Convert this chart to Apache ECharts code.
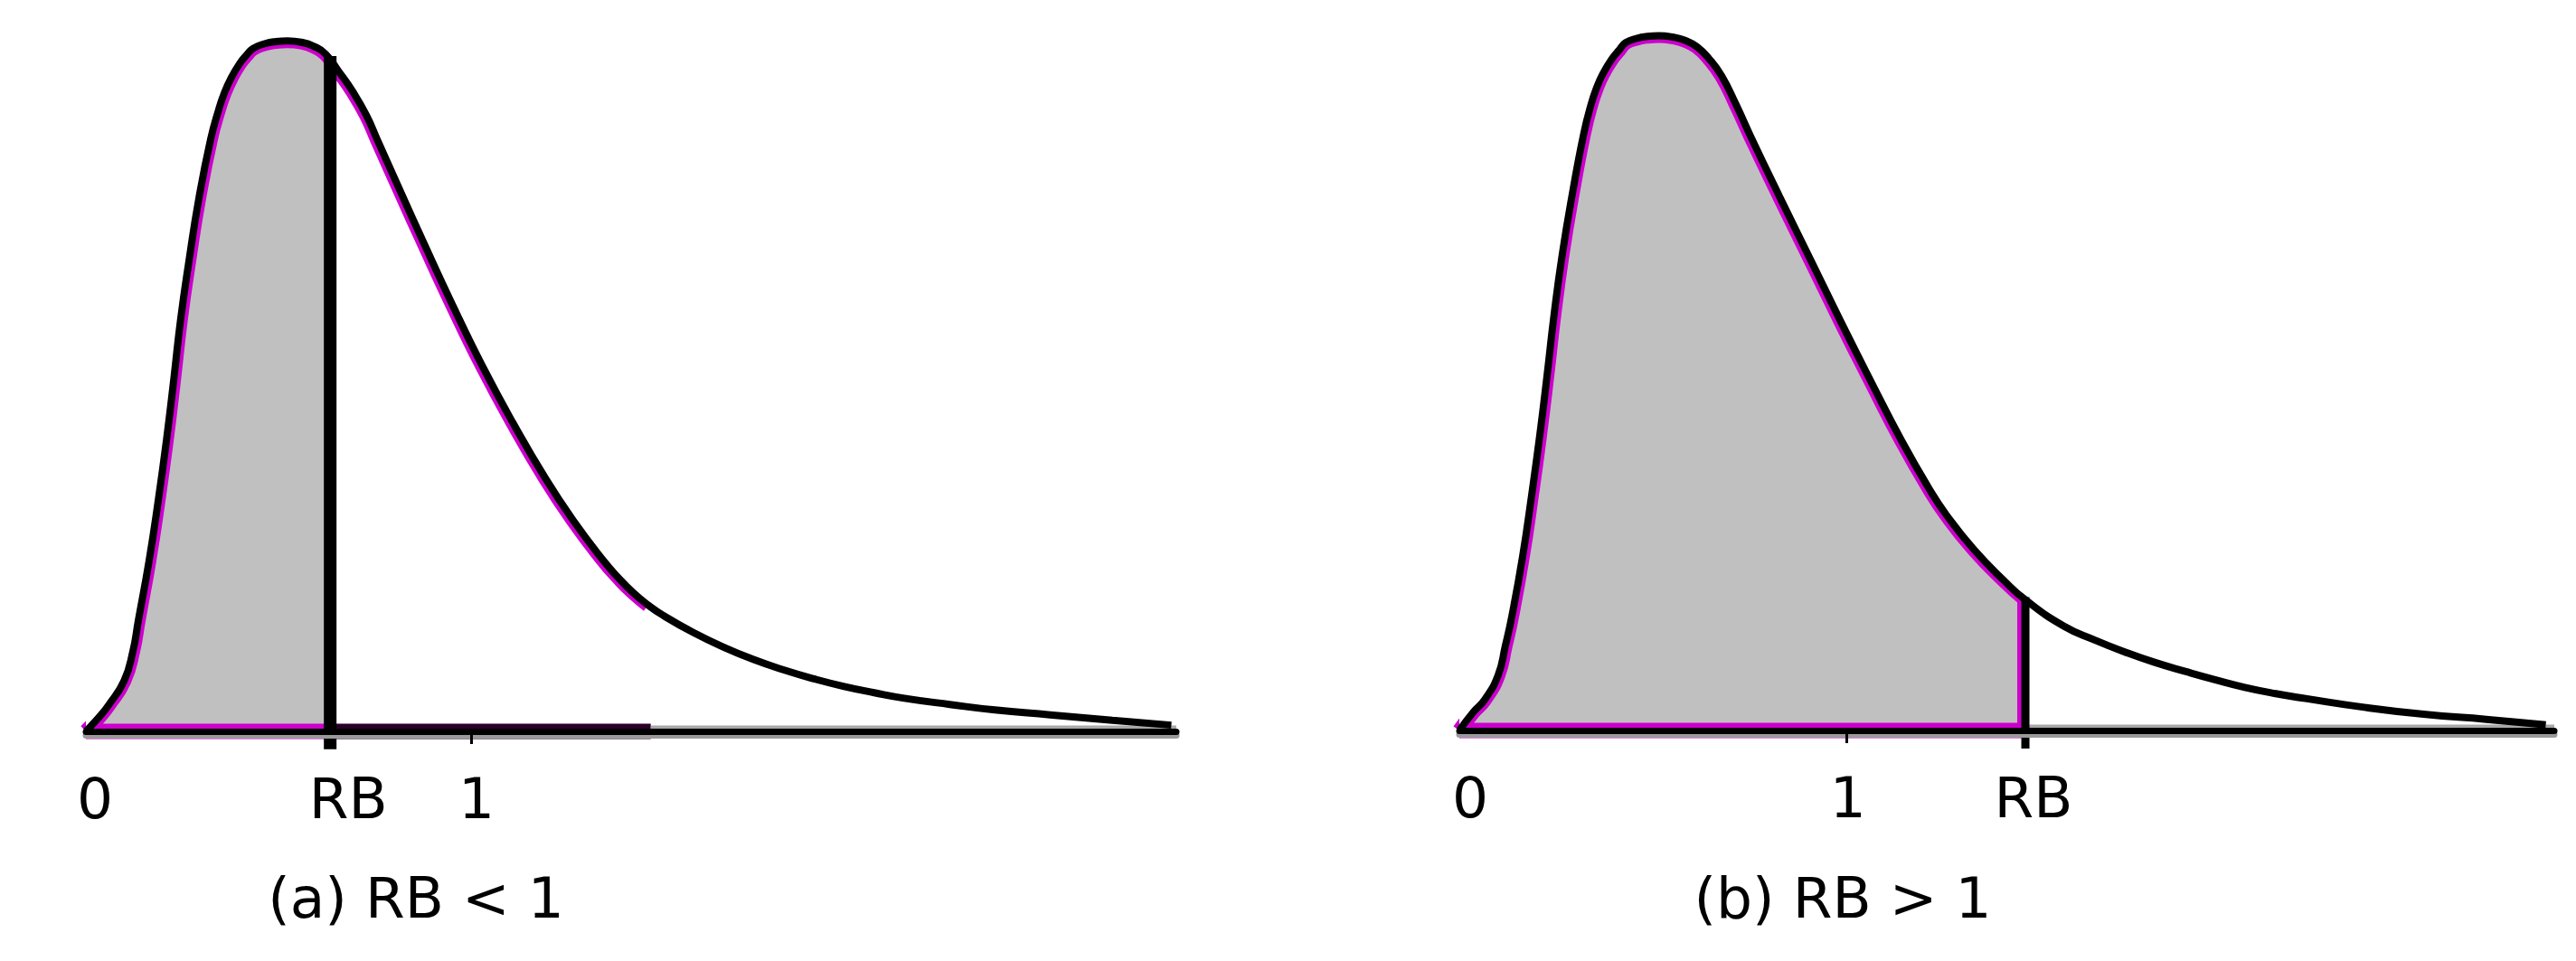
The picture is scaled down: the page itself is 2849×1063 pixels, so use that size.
<!DOCTYPE html>
<html><head><meta charset="utf-8">
<script src="https://cdn.jsdelivr.net/npm/echarts@6/dist/echarts.min.js"></script>
<style>html,body{margin:0;padding:0;background:#fff}#c{width:2849px;height:1063px}</style>
</head><body><div id="c"></div>
<script>
// ---- Panel (a): RB < 1 ----
const curveA_x = [0, 0.035, 0.059, 0.099, 0.122, 0.136, 0.164, 0.188, 0.209, 0.228, 0.246, 0.268, 0.293, 0.324, 0.345, 0.359, 0.376, 0.399, 0.418, 0.434, 0.465, 0.493, 0.523, 0.559, 0.592, 0.622, 0.657, 0.692, 0.728, 0.756, 0.817, 0.873, 0.951, 1.028, 1.108, 1.193, 1.264, 1.342, 1.381, 1.420, 1.459, 1.498, 1.577, 1.655, 1.733, 1.811, 1.890, 1.968, 2.046, 2.124, 2.242, 2.359, 2.502, 2.664, 2.817];
const curveA_y = [0, 0.021, 0.038, 0.073, 0.116, 0.160, 0.247, 0.335, 0.421, 0.509, 0.597, 0.683, 0.771, 0.858, 0.901, 0.924, 0.945, 0.967, 0.980, 0.989, 0.996, 0.999, 1.0, 0.998, 0.992, 0.981, 0.955, 0.927, 0.892, 0.857, 0.781, 0.712, 0.618, 0.530, 0.447, 0.366, 0.306, 0.248, 0.223, 0.201, 0.183, 0.168, 0.143, 0.122, 0.104, 0.089, 0.076, 0.065, 0.056, 0.048, 0.039, 0.031, 0.024, 0.016, 0.009];
const rbA = 0.634;
const rbTopA = 0.978;
const outlineEndA = 1.466;
const tickValsA = [0, rbA, 1];
const tickLabelsA = ['0', 'RB', '1'];

// ---- Panel (b): RB > 1 ----
const curveB_x = [0, 0.037, 0.065, 0.100, 0.119, 0.136, 0.164, 0.187, 0.208, 0.227, 0.245, 0.266, 0.292, 0.322, 0.341, 0.355, 0.371, 0.395, 0.414, 0.430, 0.458, 0.486, 0.516, 0.551, 0.584, 0.614, 0.645, 0.678, 0.715, 0.752, 0.827, 0.909, 0.988, 1.065, 1.143, 1.213, 1.259, 1.329, 1.409, 1.463, 1.563, 1.643, 1.720, 1.797, 1.876, 1.953, 2.030, 2.110, 2.187, 2.343, 2.498, 2.654, 2.808];
const curveB_y = [0, 0.027, 0.044, 0.079, 0.122, 0.165, 0.252, 0.339, 0.425, 0.512, 0.599, 0.685, 0.772, 0.860, 0.902, 0.925, 0.945, 0.967, 0.980, 0.990, 0.996, 0.999, 1.0, 0.998, 0.993, 0.984, 0.967, 0.942, 0.901, 0.856, 0.769, 0.676, 0.586, 0.501, 0.417, 0.349, 0.310, 0.261, 0.215, 0.188, 0.150, 0.130, 0.113, 0.098, 0.085, 0.073, 0.062, 0.053, 0.046, 0.033, 0.023, 0.016, 0.008];
const rbB = 1.463;
const rbTopB = 0.192;
const outlineEndB = rbB;
const tickValsB = [0, 1, rbB];
const tickLabelsB = ['0', '1', 'RB'];

const captions = ['(a) RB < 1', '(b) RB > 1'];
const axisMax = 2.83;
const yMax = 1.05;

// ---- styling ----
const FONT = 'DejaVu Sans';
const MAG = '#cc00cc';
const SMOOTH = 0.5;
const labelPadA = [20, 40, 12];
const labelPadB = [24, 4, 18];

function panelSeries(i, xs, ys, rb, rbTop, outlineEnd, rbWidth, isB) {
  const pts = xs.map((x, k) => [x, ys[k]]);
  const shaded = pts.filter(p => p[0] < rb).concat([[rb, rbTop]]);
  const outline = pts.filter(p => p[0] <= outlineEnd);
  const base = { type: 'line', xAxisIndex: i, yAxisIndex: i, symbol: 'none', clip: false, silent: true, animation: false };
  const s = [];
  s.push(Object.assign({}, base, { data: shaded, smooth: SMOOTH, lineStyle: { width: 0 }, areaStyle: { color: '#c0c0c0', opacity: 1 }, z: 1 }));
  s.push(Object.assign({}, base, { data: outline, smooth: SMOOTH, lineStyle: { color: MAG, width: 16 }, z: 2 }));
  s.push(Object.assign({}, base, { data: [[0, 0], [rb, 0]], lineStyle: { color: MAG, width: 17, cap: 'butt' }, z: 2 }));
  if (!isB) {
    s.push(Object.assign({}, base, { data: [[rb, 0], [outlineEnd, 0]], lineStyle: { color: '#2a0028', width: 17, cap: 'butt' }, z: 2 }));
    s.push(Object.assign({}, base, { data: [[outlineEnd, 0], [axisMax, 0]], lineStyle: { color: '#a8a8a8', width: 13, cap: 'butt' }, z: 2 }));
  } else {
    s.push(Object.assign({}, base, { data: [[rb, 0], [rb, rbTop]], lineStyle: { color: MAG, width: 18, cap: 'butt' }, z: 2 }));
    s.push(Object.assign({}, base, { data: pts.filter(p => p[0] >= rb), smooth: SMOOTH, lineStyle: { width: 0 }, areaStyle: { color: '#fff', opacity: 1, origin: 'start' }, z: 3 }));
    s.push(Object.assign({}, base, { data: [[rb, 0], [axisMax, 0]], lineStyle: { color: '#a8a8a8', width: 13, cap: 'butt' }, z: 3 }));
  }
  s.push(Object.assign({}, base, { data: pts, smooth: SMOOTH, lineStyle: { width: 0 }, areaStyle: { color: '#fff', opacity: 1, origin: 'end' }, z: 3 }));
  s.push(Object.assign({}, base, { data: pts, smooth: SMOOTH, lineStyle: { color: '#000', width: 8 }, z: 4 }));
  s.push(Object.assign({}, base, { data: [[rb, -0.026], [rb, rbTop]], smooth: false, lineStyle: { color: '#000', width: rbWidth, cap: 'butt' }, z: 5 }));
  return s;
}

function xAxisFor(i, vals, labels, pads) {
  const rich = {};
  labels.forEach((l, k) => { rich['t' + k] = { fontSize: 63, fontFamily: FONT, color: '#000', padding: [0, 0, 0, pads[k]] }; });
  return {
    type: 'value', gridIndex: i, min: 0, max: axisMax, z: 10,
    splitLine: { show: false },
    axisLine: { show: true, onZero: false, lineStyle: { color: '#000', width: 7, shadowColor: '#9a9a9a', shadowOffsetY: 4, shadowBlur: 0 } },
    axisTick: { show: true, customValues: [1], length: 14, lineStyle: { color: '#000', width: 3 } },
    axisLabel: {
      show: true, customValues: vals, margin: 48, color: '#000', fontSize: 63, fontFamily: FONT,
      rich: rich,
      formatter: function (v) {
        let best = 0;
        vals.forEach((t, k) => { if (Math.abs(t - v) < Math.abs(vals[best] - v)) best = k; });
        return '{t' + best + '|' + labels[best] + '}';
      }
    }
  };
}

const chart = echarts.init(document.getElementById('c'), null, { renderer: 'canvas' });
chart.setOption({
  backgroundColor: '#fff',
  animation: false,
  title: [
    { text: captions[0], left: 455, top: 962, textAlign: 'center', textStyle: { fontSize: 63, fontWeight: 'normal', fontFamily: FONT, color: '#000' } },
    { text: captions[1], left: 2033, top: 962, textAlign: 'center', textStyle: { fontSize: 63, fontWeight: 'normal', fontFamily: FONT, color: '#000' } }
  ],
  grid: [
    { left: 95, top: 7, width: 1206, height: 802 },
    { left: 1614, top: 1, width: 1211, height: 807 }
  ],
  xAxis: [xAxisFor(0, tickValsA, tickLabelsA, labelPadA), xAxisFor(1, tickValsB, tickLabelsB, labelPadB)],
  yAxis: [
    { type: 'value', gridIndex: 0, min: 0, max: yMax, show: false },
    { type: 'value', gridIndex: 1, min: 0, max: yMax, show: false }
  ],
  series: [].concat(
    panelSeries(0, curveA_x, curveA_y, rbA, rbTopA, outlineEndA, 14, false),
    panelSeries(1, curveB_x, curveB_y, rbB, rbTopB, outlineEndB, 9, true)
  )
});
</script>
</body></html>
